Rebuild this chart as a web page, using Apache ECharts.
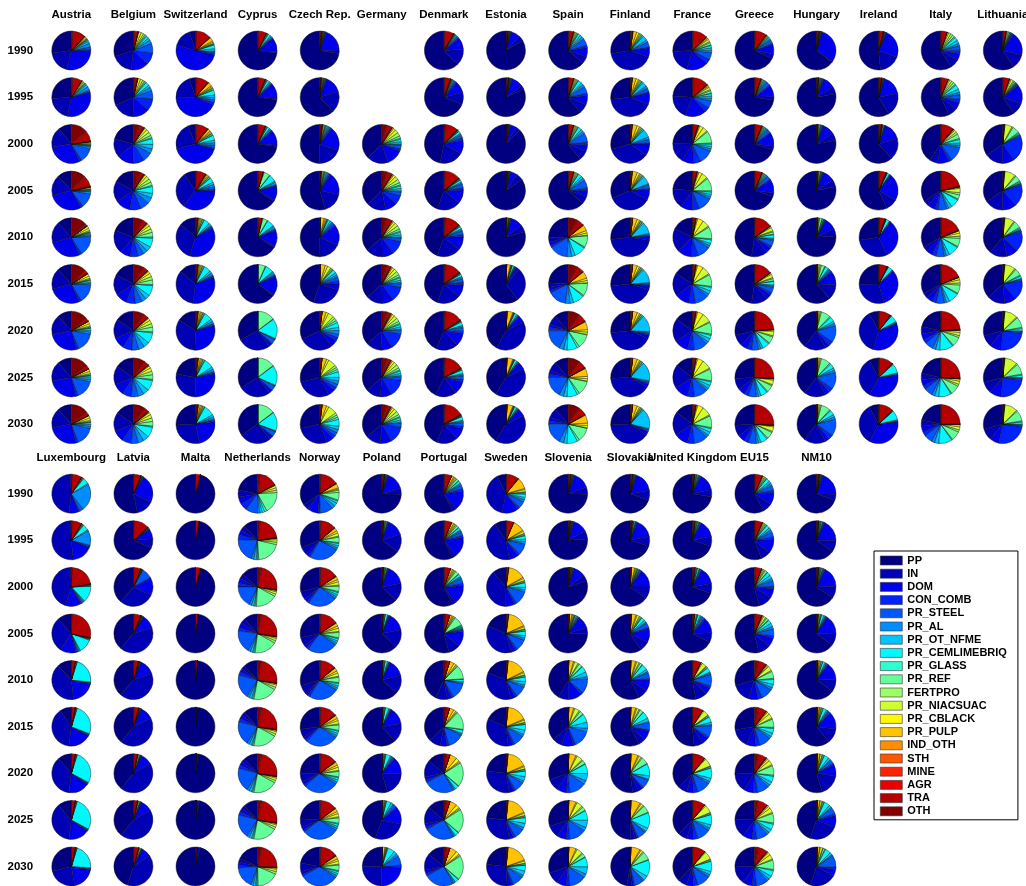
<!DOCTYPE html>
<html><head><meta charset="utf-8">
<script src="https://cdn.jsdelivr.net/npm/echarts@6/dist/echarts.min.js"></script>
<style>html,body{margin:0;padding:0;background:#fff}#c{width:1026px;height:886px}</style>
</head><body><div id="c"></div>
<script>
const categories = ['PP','IN','DOM','CON_COMB','PR_STEEL','PR_AL','PR_OT_NFME','PR_CEMLIMEBRIQ','PR_GLASS','PR_REF','FERTPRO','PR_NIACSUAC','PR_CBLACK','PR_PULP','IND_OTH','STH','MINE','AGR','TRA','OTH'];
const years = ['1990','1995','2000','2005','2010','2015','2020','2025','2030'];

const austria = [
[27,19,29,1,2, 3,2,1,0.5,0.5, 0.5,1,1,0.5,0, 0,0,0,11,1],
[26,21,32,1,1, 3,2,1,0.5,0.5, 1,1,1,0,0, 0,0,0,8,1],
[11,17,30,2,12, 2,0.5,0.5,0.5,0.5, 0.5,1,0.5,0.3,0, 0,0,0.3,9,14],
[12,18,30,2,12, 2,0.5,0.5,0.5,0.5, 0.5,1,0.5,0.3,0, 0,0,0.3,10,12],
[12,18,28,2,17, 1,1,1,0.5,0.5, 1,2,2,0.3,0, 0,0,0.3,2,13],
[12,18,28,2,16, 1,1,1.5,0.5,0.5, 1,2,2,0.3,0, 0,0,0.3,3,13],
[12,17,27,2,16, 2,1.5,1.5,0.5,0.5, 1,2,2,0.3,0, 0,0,0.3,3,14],
[12,17,27,2,16, 2,1.5,1.5,0.5,0.5, 1,2,2,0.3,0, 0,0,0.3,3,15],
[12,17,27,2,16, 2,1.5,1.5,0.5,0.5, 1,2,2,0.3,0, 0,0,0.3,3,15]];
const belgium = [
[30,18,15,10,8, 3,2,2,1,1, 1.5,2,2,0.5,0, 0,0,0.5,3,0.5],
[32,18,14,10,7, 3,2,3,1,1, 1.5,2,2,0.5,0, 0,0,0.5,2.5,0.5],
[22,16,14,10,8, 4,4,5,1,2, 3,3,2,0.5,0.5, 0,0,0.5,4,5],
[18,18,13,10,8, 5,4,6,1,3, 3,3,2,0.5,0.5, 0,0,0.5,3,6],
[20,20,9,7,5, 4,4,8,1,4, 3,3,2,0.5,0.5, 0,0,0.5,4,8],
[18,18,10,8,6, 4,4,9,1,4, 3,3,2,0.5,0.5, 0,0,0.5,4,9],
[16,16,10,8,6, 5,5,9,1,4, 3,3,2,0.5,0.5, 0,0,0.5,4,9],
[16,16,10,8,6, 5,5,9,1,4, 3,3,2,0.5,0.5, 0,0,0.5,4,10],
[16,16,10,8,6, 5,5,9,1,4, 3,3,2,0.5,0.5, 0,0,0.5,4,10]];
const switzerland = [
[5,15,50,1,1, 1,2,3,0.5,0.5, 0.5,1,1,3,0.5, 0,0,0.5,12,0.5],
[5,20,42,2,2, 2,2,4,0.5,1, 0.5,1,1,3,0.5, 0,0,0.5,10,0.5],
[6,22,40,1,2, 2,2,4,0.5,1, 0.5,1,1,2,0.5, 0,0,0.5,9,1],
[10,30,36,1,2, 2,2,4,0.5,1, 0.5,1,1,1,0, 0,0,0.5,8,0.5],
[14,32,38,1,1, 1,2,5,0.5,1, 0.5,1,1,1,0.5, 0,0,0.5,1,0.5],
[14,34,33,1,1, 2,2,6,0.5,1, 0.5,1,1,1,0.5, 0,0,0.5,1,0.5],
[16,34,30,1,1, 2,2,7,0.5,1, 0.5,1,1,1.5,0.5, 0,0,0.5,1,0.5],
[22,28,28,1,1, 2,2,8,0.5,1, 0.5,1,1,1.5,0.5, 0,0,0.5,1,0.5],
[26,28,24,1,1, 2,2,9,0.5,1, 0.5,1,1,1.5,0.5, 0,0,0.5,1,0.5]];
const cyprus = [
[74,1,12,0.5,0.5, 1,1,2,0.5,0.5, 0.5,0.5,0,0,0, 0,0,0,7,0.5],
[74,1,13,0.5,0.5, 1,1,2,0.5,0.5, 0.5,0.5,0,0,0, 0,0,0,6,0.5],
[74,1,13,0.5,0.5, 1,1,2,0.5,0.5, 0.5,0.5,0,0,0, 0,0,0,6,0.5],
[66,1,12,0.5,1, 2,1,6,0.5,5, 0.5,0.5,0,0,0, 0,0,0,4,0.5],
[68,1,14,0.5,1, 2,1,6,0.5,4, 0.5,0.5,0,0,0, 0,0,0,3,0.5],
[65,1,16,0.5,1, 2,1,7,0.5,6, 0.5,0,0,0,0, 0,0,0,0,0],
[34,28,3,0.5,4, 0.5,0.5,17,0.5,15, 0,0,0,0,0, 0,0,0,0,0],
[35,27,3,0.5,4, 0.5,0.5,17,0.5,15, 0,0,0,0,0, 0,0,0,0,0],
[36,27,3,0.5,4, 0.5,0.5,16,0.5,15, 0,0,0,0,0, 0,0,0,0,0]];
const czech = [
[73,2,20,0.5,0.5, 0.3,0.3,0.3,0.3,0.3, 0.3,0.3,0.3,0.3,0, 0,0,0.3,1,0.5],
[62,18,14,0.5,0.5, 0.5,0.5,0.5,0.3,0.3, 0.3,0.5,0.5,0.5,0, 0,0,0.3,0.5,0.3],
[50,20,20,1,1, 1,1,1,0.5,0.5, 0.5,1,0.5,0.5,0, 0,0,0.3,1.5,0.3],
[55,17,19,1,1, 1,1,1,0.5,0.5, 0.5,1,0.5,0.5,0, 0,0,0.3,0.5,0.3],
[50,18,17,1.5,1.5, 1,1.5,2,0.5,0.5, 0.5,1,1,3,0, 0,0,0,0.3,0.3],
[45,25,5,3,3, 2,2,3,0.5,1, 1,3,2,4,0, 0,0,0,0.3,0.3],
[33,29,6,3,3, 3,3,4,2,2, 2,5,2,3.5,0, 0,0,0,1.5,0.5],
[30,30,6,3,3, 3,3,5,2,2, 2,7,2,4,0, 0,0,0,1.5,0.5],
[30,29,6,3,3, 3,3,6,2,2, 2,8,2,4,0, 0,0,0,1.5,0.5]];
const germany = [
null,
null,
[38,18,14,2,3, 1,2,2,1,2, 3,3,2,1,0.5, 0,0,1,4,4],
[38,16,10,8,3, 1,2,2,1,2, 3,3,2,1,0.5, 0,0,1,4,4],
[38,14,10,12,3, 1,2,2,1,2, 3,3,2,1,0.5, 0,0,1,4,4],
[38,14,10,13,3, 1,2,2,1,2, 3,3,2,1,0.5, 0,0,1,3,4],
[38,13,10,14,3, 1,2,2,1,2, 3,3,2,1,0.5, 0,0,1,3,4],
[38,13,10,15,3, 1,2,2,1,2, 3,3,2,1,0.5, 0,0,1,3,4],
[38,13,10,15,3, 1,2,2,1,2, 3,3,2,1,0.5, 0,0,1,3,4]];
const denmark = [
[64,14,10,1,1, 1,1,0.5,0.3,0.3, 0.3,0.3,0.3,0,0, 0,0,0,8,0.5],
[70,10,10,1,1, 1,1,0.5,0.3,0.3, 0.3,0.3,0.3,0,0, 0,0,0,5,0.5],
[48,20,12,2,2, 1,1,2,0.3,0.5, 0.3,0.3,0.3,0,0, 0,0,0.5,11,1],
[46,20,12,2,3, 1,1,2,0.3,0.5, 0.3,0.3,0.3,0,0, 0,0,0.5,13,1],
[46,20,12,2,3, 1,1,2,0.3,0.5, 0.3,0.3,0.3,0,0, 0,0,0.5,13,1],
[46,20,11,2,3, 1,1,2,0.3,0.5, 0.3,0.3,0.3,0,0, 0,0,0.5,14,1],
[45,19,11,2,3, 1,1,3,0.3,0.5, 0.3,0.3,0.3,0,0, 0,0,0.5,15,1],
[44,18,11,2,3, 1,1,3,0.3,0.5, 0.3,0.3,0.3,0,0, 0,0,0.5,16,1],
[45,18,10,2,3, 1,1,3,0.3,0.5, 0.3,0.3,0.3,0,0, 0,0,0.5,16,1]];
const estonia = [
[84,4,8,0.5,0.5, 0.3,0.3,0.3,0.2,0.2, 0.2,0.2,0.2,0.2,0, 0,0,0,1,0.3],
[82,3,10,0.5,0.5, 0.5,0.3,0.3,0.2,0.2, 0.2,0.2,0.2,0.2,0, 0,0,0,1.5,0.3],
[88,4,5,0.5,0.3, 0.3,0.3,0.3,0.2,0.2, 0.2,0.2,0.2,0.3,0, 0,0,0,0.5,0.3],
[85,6,6,0.5,0.3, 0.3,0.3,0.3,0.2,0.2, 0.2,0.2,0.2,0.3,0, 0,0,0,0.5,0.3],
[80,6,10,0.5,0.3, 0.3,0.3,0.5,0.2,0.2, 0.2,0.2,0.3,1,0, 0,0,0,0.3,0.2],
[60,28,3,0.5,0.5, 0.5,0.5,1.5,0.3,0.3, 0.3,0.3,0.5,3,0, 0,0,0,0.3,0.2],
[43,41,6,0.5,0.5, 0.5,1,2,0.3,0.3, 0.3,0.3,0.5,5,0, 0,0,0,0.5,0.3],
[42,42,6,0.5,0.5, 0.5,1,2,0.3,0.3, 0.3,0.3,0.5,5,0, 0,0,0,0.5,0.3],
[42,42,6,0.5,0.5, 0.5,1,2,0.3,0.3, 0.3,0.3,0.5,5,0, 0,0,0,0.5,0.3]];
const spain = [
[65,6,8,2,6, 2,2,2,0.5,1, 1,1,0.5,0.5,0, 0,0,0,4,0.5],
[62,8,8,2,6, 2,2,3,0.5,1, 1,1,0.5,0.5,0, 0,0,0,4,0.5],
[62,8,6,2,8, 2,2,3,0.5,1, 1,1,0.5,0.5,0, 0,0,0,4,0.5],
[64,7,5,2,7, 2,2,3,0.5,1, 1,1,0.5,0.5,0, 0,0,0,4,0.5],
[26,4,3,2,16, 4,3,10,1,10, 0.5,2,2,5,0.5, 0,0,0.5,6,8],
[25,4,3,2,16, 4,3,10,1,11, 0.5,2,2,6,0.5, 0,0,0.5,6,8],
[12,8,3,3,18, 4,3,9,2,12, 0.5,2,2,7,0.5, 0,0,0.5,7,10],
[12,8,3,3,18, 4,3,9,2,12, 0.5,2,2,7,0.5, 0,0,0.5,7,10],
[12,8,3,3,18, 4,3,9,2,12, 0.5,2,2,7,0.5, 0,0,0.5,7,10]];
const finland = [
[28,42,8,1,4, 2,4,1,0.5,1, 1,1,2,3,0.5, 0,0,0,1.5,0.5],
[27,43,10,1,3, 2,4,1,0.5,1, 1,1,2,3,0.5, 0,0,0,1,0.5],
[30,36,10,1,3, 2,7,1,0.5,1, 1,1,2,4,0.5, 0,0,0,1,0.5],
[32,36,9,1,3, 1,7,1,0.5,1, 1,1,2,4,0.5, 0,0,0,1,0.5],
[27,46,3,1,1, 1,10,1,0.5,1, 0.5,1,2,4,0, 0,0,0,1.5,0.5],
[27,44,3,1,1, 1,12,1,0.5,1, 0.5,1,2,4,0, 0,0,0,1.5,0.5],
[27,42,3,1,1, 1,14,1,0.5,1, 0.5,1,2,4,0, 0,0,0,1.5,0.5],
[26,41,3,1,1, 1,16,1,0.5,1, 0.5,1,2,4,0, 0,0,0,1.5,0.5],
[26,40,3,1,1, 1,17,1,0.5,1, 0.5,1,2,4,0, 0,0,0,1.5,0.5]];
const france = [
[26,20,18,4,6, 2,2,2,0.5,2, 1,2,1,1,0.5, 0,0,0.5,12,0.5],
[24,20,18,4,6, 2,2,2,0.5,2, 1,2,1,1,0.5, 0,0,0.5,13,0.5],
[25,17,10,6,12, 2,2,2,1,10, 1,4,3,1,0.5, 0,0,0.5,4,0.5],
[24,17,10,6,12, 2,2,2,1,11, 1,5,3,1,0.5, 0,0,0.5,3,0.5],
[18,20,12,6,11, 2,2,3,1,10, 1,6,5,1,0.5, 0,0,0.5,2,0.5],
[16,20,12,6,12, 2,3,3,1,10, 1,7,5,1,0.5, 0,0,0.5,2,0.5],
[15,20,12,6,12, 2,3,3,1,10, 1,8,5,1,0.5, 0,0,0.5,2,0.5],
[15,20,12,6,12, 2,3,3,1,10, 1,8,5,1,0.5, 0,0,0.5,2,0.5],
[15,20,12,6,12, 2,3,3,1,10, 1,8,5,1,0.5, 0,0,0.5,2,0.5]];
const greece = [
[70,4,8,1,3, 1,1,1,0.5,1, 0.5,0.5,0.3,0.2,0, 0,0,0,10,0.5],
[75,3,10,1,3, 1,1,1,0.5,1, 0.5,0.5,0.3,0.2,0, 0,0,0,5,0.5],
[74,3,12,1,3, 1,1,1,0.5,1, 0.5,0.5,0.3,0.2,0, 0,0,0,6,0.5],
[74,3,12,1,3, 1,1,1,0.5,1, 0.5,0.5,0.3,0.2,0, 0,0,0,6,0.5],
[50,14,5,2,5, 1,1,3,0.5,2, 1,3,1,0.5,0, 0,0,0.5,15,0.5],
[50,14,5,2,5, 1,1,3,0.5,2, 1,3,1,0.5,0, 0,0,0.5,15,0.5],
[30,10,6,4,6, 2,2,6,1,6, 1,4,1,0.5,0, 0,0,0.5,24,0.5],
[27,10,6,4,7, 2,2,6,1,6, 1,4,1,0.5,0, 0,0,0.5,26,0.5],
[27,10,6,4,7, 2,2,6,1,6, 1,4,1,0.5,0, 0,0,0.5,26,0.5]];
const hungary = [
[65,1,30,0.3,0.3, 0.3,0.3,0.3,0.2,0.3, 0.3,0.2,0.2,0.2,0, 0,0,0,1.5,0.5],
[78,6,10,0.5,0.5, 0.5,0.5,0.5,0.3,0.5, 0.5,0.3,0.3,0.2,0, 0,0,0,1,0.5],
[78,6,10,0.5,0.5, 0.5,0.5,0.5,0.3,1, 0.5,0.3,0.3,0.2,0, 0,0,0,0.5,0.3],
[78,6,10,0.5,0.5, 0.5,0.5,0.5,0.3,1, 0.5,0.3,0.3,0.2,0, 0,0,0,0.5,0.3],
[76,6,10,0.5,0.5, 0.5,0.5,1,0.3,2, 0.5,0.5,0.5,0.2,0, 0,0,0,0.5,0.3],
[62,13,11,1,1, 1,1,3,0.5,3, 1,1,1,0.2,0, 0,0,0,0.5,0.3],
[40,18,4,4,14, 2,2,4,1,8, 1,1,1,0.2,0, 0,0,0,0.5,0.3],
[40,18,4,4,14, 2,2,4,1,8, 1,1,1,0.2,0, 0,0,0,0.5,0.3],
[40,18,4,4,14, 2,2,4,1,8, 1,1,1,0.2,0, 0,0,0,0.5,0.3]];
const ireland = [
[52,18,24,0.5,0.3, 0.3,0.3,0.5,0.2,0.2, 0.2,0.2,0.2,0.2,0, 0,0,0,3.5,0.3],
[60,20,17,0.3,0.3, 0.3,0.3,0.5,0.2,0.2, 0.2,0.2,0.2,0.2,0, 0,0,0,2,0.3],
[62,18,15,0.3,0.3, 0.3,0.3,1,0.2,0.2, 0.2,0.2,0.2,0.2,0, 0,0,0,2,0.3],
[58,10,23,0.3,0.3, 0.3,0.5,2,0.2,0.2, 0.2,0.2,0.2,0.2,0, 0,0,0,6,0.3],
[28,30,33,0.3,0.3, 0.3,0.5,3,0.2,0.2, 0.2,0.2,0.2,0.2,0, 0,0,0,5,0.3],
[26,30,33,0.3,0.3, 0.3,0.5,4,0.2,0.2, 0.2,0.2,0.2,0.2,0, 0,0,0,7,0.3],
[8,38,36,0.3,0.3, 0.3,1,6,0.2,0.2, 0.2,0.2,0.2,0.2,0, 0,0,0,10,0.3],
[8,35,35,0.3,0.3, 0.3,1,8,0.2,0.2, 0.2,0.2,0.2,0.2,0, 0,0,0,12,0.3],
[8,35,35,0.3,0.3, 0.3,1,8,0.2,0.2, 0.2,0.2,0.2,0.2,0, 0,0,0,12,0.3]];
const italy = [
[62,8,6,3,4, 2,3,3,1,2, 2,2,1,0.5,0, 0,0,0,5,0.5],
[60,8,6,3,4, 2,3,4,1,2, 2,2,1,0.5,0, 0,0,0,6,0.5],
[43,7,10,3,13, 2,2,3,1,4, 2,2,1,0.5,0, 0,0,0.5,11,0.5],
[38,5,7,3,8, 2,3,8,1,4, 2,4,1,0.5,0, 0,0,0.5,23,0.5],
[38,5,6,4,8, 2,3,10,1,8, 2,3,2,0.5,0, 0,0,0.5,21,0.5],
[38,5,6,4,8, 2,3,10,1,8, 2,3,2,0.5,0, 0,0,0.5,21,0.5],
[25,7,6,4,8, 3,4,13,1,9, 2,3,2,0.5,0, 0,0,0.5,27,0.5],
[25,6,6,4,8, 3,4,12,1,9, 2,3,2,0.5,0, 0,0,0.5,29,0.5],
[25,6,6,4,8, 3,4,13,1,9, 2,3,2,0.5,0, 0,0,0.5,28,0.5]];
const lithuania = [
[60,12,20,1,0.5, 0.5,0.5,0.5,0.5,1, 1,0.5,0.3,0.3,0, 0,0,0,2,0.5],
[60,10,16,1,0.5, 0.5,0.5,0.5,0.5,1, 1,2,1,0.5,0, 0,0,0,5,0.5],
[35,15,10,22,1, 0.5,0.5,1,1,6, 1,6,0.5,0.3,0, 0,0,0,0.5,0.5],
[35,15,12,18,1, 0.5,0.5,1,1,5, 1,9,0.5,0.3,0, 0,0,0,0.5,0.5],
[40,15,10,17,1, 0.5,0.5,1,1,6, 1,8,0.5,0.3,0, 0,0,0,0.5,0.5],
[38,15,10,17,1, 0.5,0.5,2,1,6, 1,9,0.5,0.3,0, 0,0,0,0.5,0.5],
[30,10,10,25,1, 0.5,0.5,2,1,9, 1,11,0.5,0.3,0, 0,0,0,0.5,0.5],
[30,10,10,25,1, 0.5,0.5,2,1,9, 1,11,0.5,0.3,0, 0,0,0,0.5,0.5],
[30,10,8,27,1, 0.5,0.5,2,1,9, 1,11,0.5,0.3,0, 0,0,0,0.5,0.5]];
const luxembourg = [
[1,46,8,1,3, 22,1,5,0.5,0.5, 0.3,0.3,0.3,0.3,0, 0,0,0,8,0.5],
[1,50,17,1,1, 12,1,5,0.5,0.5, 0.3,0.3,0.3,0.3,0, 0,0,0,8,0.5],
[1,46,14,1,1, 1,1,14,0.5,0.5, 0.3,0.3,0.3,0.3,0, 0,0,0,23,0.5],
[12,30,14,1,1, 1,1,12,0.5,0.5, 0.3,0.3,0.3,0.3,0, 0,0,0,29,0.5],
[12,41,20,0.5,0.5, 0.5,0.5,22,0.3,0.3, 0.3,0.3,0.3,0.3,0, 0,0,0,3,0.3],
[10,40,20,0.5,0.5, 0.5,0.5,27,0.3,0.3, 0.3,0.3,0.3,0.3,0, 0,0,0,3,0.3],
[12,38,18,0.5,0.5, 0.5,0.5,29,0.3,0.3, 0.3,0.3,0.3,0.3,0, 0,0,0,3,0.3],
[12,38,18,0.5,0.5, 0.5,0.5,29,0.3,0.3, 0.3,0.3,0.3,0.3,0, 0,0,0,3,0.3],
[30,25,20,0.5,0.5, 0.5,0.5,22,0.3,0.3, 0.3,0.3,0.3,0.3,0, 0,0,0,3,0.3]];
const latvia = [
[55,15,24,0.5,0.3, 0.3,0.3,0.3,0.2,0.2, 0.2,0.2,0.2,0.2,0, 0,0,0,6,0.3],
[70,8,8,0.3,0.3, 0.3,0.3,0.3,0.2,0.2, 0.2,0.2,0.2,0.2,0, 0,0,0,13,0.5],
[40,30,15,0.5,9, 0.3,0.3,0.3,0.2,0.2, 0.2,0.2,0.2,0.2,0, 0,0,0,6,0.3],
[40,42,12,0.3,0.3, 0.3,0.3,0.3,0.2,0.2, 0.2,0.2,0.2,0.2,0, 0,0,0,6,0.3],
[40,43,13,0.3,0.3, 0.3,0.3,0.3,0.2,0.2, 0.2,0.2,0.2,0.2,0, 0,0,0,4,0.3],
[40,44,11,0.3,0.3, 0.3,0.3,0.3,0.2,0.2, 0.2,0.2,0.2,0.2,0, 0,0,0,4,0.3],
[40,45,10,0.3,0.3, 0.3,0.3,0.3,0.2,1, 0.5,0.2,0.2,0.2,0, 0,0,0,3,0.3],
[40,45,10,0.3,0.3, 0.3,0.3,0.3,0.2,1, 0.5,0.2,0.2,0.2,0, 0,0,0,3,0.3],
[46,40,8,0.3,0.3, 0.3,0.3,0.3,0.2,1, 0.5,0.2,0.2,0.2,0, 0,0,0,4,0.3]];
const malta = [
[96,0,0,0,0, 0,0,0,0,0, 0,0,0,0,0, 0,0,0,4,0],
[97,0,0,0,0, 0,0,0,0,0, 0,0,0,0,0, 0,0,0,3,0],
[96,0,0,0,0, 0,0,0,0,0, 0,0,0,0,0, 0,0,0,4,0],
[98,0,0,0,0, 0,0,0,0,0, 0,0,0,0,0, 0,0,0,2,0],
[98.5,0,0,0,0, 0,0,0,0,0, 0,0,0,0,0, 0,0,0,1.5,0],
[99.5,0,0,0,0, 0,0,0,0,0, 0,0,0,0,0, 0,0,0,0.5,0],
[97,0,2,0,0, 0,0,0,0,0, 0,0,0,0,0, 0,0,0,0.5,0],
[96.5,0,3,0,0, 0,0,0,0,0, 0,0,0,0,0, 0,0,0,0.5,0],
[96,0,3,0,0, 0,0,0,0,0, 0,0,0,0,0, 0,0,0,1,0]];
const netherlands = [
[22,6,6,6,10, 2,2,2,2,18, 2,2,2,0.5,0, 0,0,0.5,15,2],
[12,4,4,4,20, 2,2,1,1,20, 2,2,1,0.5,0, 0,0,0.5,20,2],
[14,4,4,3,18, 2,2,1,1,18, 2,2,1,0.5,0, 0,0,0.5,24,3],
[12,4,4,3,19, 2,2,1,1,19, 2,2,1,0.5,0, 0,0,0.5,24,3],
[12,3,3,3,20, 2,2,1,1,20, 2,2,1,0.5,0, 0,0,0.5,24,3],
[12,3,3,3,20, 2,2,1,1,20, 2,2,1,0.5,0, 0,0,0.5,24,3],
[12,3,3,3,20, 2,2,1,1,20, 2,2,1,0.5,0, 0,0,0.5,24,3],
[12,3,3,3,20, 2,2,1,1,20, 2,2,1,0.5,0, 0,0,0.5,24,3],
[18,3,3,2,18, 2,2,1,1,18, 2,2,1,0.5,0, 0,0,0.5,22,3]];
const norway = [
[38,5,10,2,12, 3,3,2,1,7, 2,1,1,4,0.5, 0,0,0.5,16,1],
[35,7,3,2,28, 2,2,2,1,5, 1,3,2,3,0.5, 0,0,0.5,14,1],
[32,8,3,2,27, 2,2,2,1,5, 1,3,2,3,0.5, 0,0,0.5,16,1],
[32,8,3,2,28, 2,2,2,1,5, 1,3,2,3,0.5, 0,0,0.5,16,1],
[33,8,3,2,28, 2,2,2,1,5, 1,3,2,3,0.5, 0,0,0.5,14,1],
[30,8,3,2,30, 2,2,2,1,5, 1,3,2,3,0.5, 0,0,0.5,15,1],
[28,8,3,2,32, 2,2,2,1,5, 1,3,2,3,0.5, 0,0,0.5,15,1],
[27,8,3,2,34, 2,2,2,1,5, 1,3,2,3,0.5, 0,0,0.5,15,1],
[25,8,3,2,36, 2,2,2,1,5, 1,3,2,3,0.5, 0,0,0.5,16,1]];
const poland = [
[75,5,15,0.5,0.5, 0.3,0.3,0.5,0.2,0.3, 0.3,0.3,0.2,0.2,0, 0,0,0,1.5,0.5],
[65,15,14,0.5,0.5, 0.3,0.5,1,0.2,0.5, 0.5,0.5,0.2,0.2,0, 0,0,0,0.8,0.3],
[63,15,16,0.5,0.5, 0.3,0.5,1,0.2,0.5, 0.5,0.5,0.2,0.2,0, 0,0,0,0.8,0.3],
[63,15,15,0.5,0.5, 0.5,0.5,2,0.2,0.5, 0.5,0.5,0.2,0.2,0, 0,0,0,0.5,0.3],
[64,15,14,0.5,0.5, 0.5,1,2,0.2,0.5, 0.5,0.5,0.2,0.2,0, 0,0,0,0.3,0.3],
[62,16,14,0.5,0.5, 0.5,1,3,0.2,0.5, 0.5,0.5,0.3,0.3,0, 0,0,0,0.3,0.3],
[55,20,14,1,1, 1,1,4,0.3,0.5, 0.5,0.5,0.5,0.5,0, 0,0,0,0.3,0.3],
[45,27,15,1,2, 1,2,4,0.3,0.5, 0.5,0.5,0.5,1,0, 0,0,0,0.3,0.3],
[25,25,25,2,8, 2,3,6,0.5,0.5, 0.5,0.5,0.5,2,0, 0,0,0,0.3,0.3]];
const portugal = [
[58,3,17,2,3, 1,1,2,0.5,2, 1,1,1,2,0, 0,0,0,6,0.5],
[58,3,17,2,3, 1,1,2,0.5,2, 1,1,1,2,0, 0,0,0,6,0.5],
[58,3,16,2,4, 1,1,2,0.5,3, 1,1,1,2,0, 0,0,0,5,0.5],
[55,10,13,1,1, 1,1,1,0.5,8, 1,1,1,2,0, 0,0,0,4,1],
[45,10,4,2,14, 1,1,2,0.5,12, 1,1,2,4,0, 0,0,0,3,2],
[40,10,6,2,14, 1,1,3,0.5,16, 1,1,2,4,0, 0,0,0,3,2],
[14,14,3,2,25, 1,1,3,0.5,20, 1,1,3,6,0, 0,0,0,3,2],
[14,14,3,2,25, 1,1,3,0.5,20, 1,1,3,6,0, 0,0,0,3,2],
[14,14,3,2,25, 1,1,3,0.5,20, 1,1,3,6,0, 0,0,0,3,2]];
const sweden = [
[8,42,15,2,6, 2,2,3,0.5,1, 0.5,2,1,10,0.5, 0,0,0,11,0.5],
[10,45,8,2,10, 2,2,3,0.5,1, 0.5,2,1,10,0.5, 0,0,0,6,0.5],
[12,40,8,2,12, 2,2,4,0.5,1, 0.5,2,1,15,0.5, 0,0,0,1.5,0.5],
[20,38,4,2,10, 2,2,4,0.5,1, 0.5,2,1,17,0.5, 0,0,0,1.5,0.5],
[20,38,4,2,10, 2,3,4,0.5,1, 0.5,2,1,17,0.5, 0,0,0,1,0.5],
[20,36,4,2,10, 2,4,5,0.5,1, 0.5,2,1,18,0.5, 0,0,0,1,0.5],
[25,32,4,2,9, 2,4,5,0.5,1, 0.5,2,1,18,0.5, 0,0,0,1,0.5],
[25,32,4,2,9, 2,4,5,0.5,1, 0.5,2,1,18,0.5, 0,0,0,1,0.5],
[25,30,4,2,10, 2,4,5,0.5,1, 0.5,2,1,19,0.5, 0,0,0,1,0.5]];
const slovenia = [
[75,6,14,0.5,0.5, 0.3,0.3,0.3,0.2,0.3, 0.3,0.3,0.2,0.3,0, 0,0,0,1.5,0.5],
[76,7,12,0.5,0.5, 0.3,0.3,0.3,0.2,0.3, 0.3,0.3,0.2,0.3,0, 0,0,0,1,0.5],
[80,5,10,0.5,0.5, 0.3,0.3,0.5,0.2,0.3, 0.3,0.3,0.2,0.5,0, 0,0,0,0.8,0.3],
[75,5,10,0.5,1, 0.5,1,1,0.3,0.5, 0.5,1,0.5,2,0, 0,0,0,0.8,0.3],
[42,8,12,2,12, 2,4,5,0.5,3, 1,3,1,4,0, 0,0,0,0.3,0.2],
[36,8,10,2,14, 3,5,7,0.5,3, 1,4,1,4,0, 0,0,0,0.3,0.2],
[30,10,8,3,14, 3,6,8,0.5,3, 1,5,1,6,0, 0,0,0,0.3,0.2],
[30,10,8,3,14, 3,6,8,0.5,3, 1,5,1,6,0, 0,0,0,0.3,0.2],
[30,10,8,3,14, 3,6,8,0.5,3, 1,5,1,6,0, 0,0,0,0.3,0.2]];
const slovakia = [
[70,8,17,0.5,0.5, 0.3,0.3,0.5,0.2,0.3, 0.3,0.3,0.2,0.3,0, 0,0,0,1.5,0.3],
[70,8,16,0.5,0.5, 0.5,0.5,1,0.2,0.3, 0.3,0.3,0.2,0.3,0, 0,0,0,1,0.3],
[65,10,15,0.5,1, 0.5,0.5,1,0.2,0.5, 0.5,1,0.5,3,0, 0,0,0,0.5,0.3],
[60,8,12,1,4, 1,2,3,0.3,1, 1,2,1,4,0, 0,0,0,0.5,0.3],
[58,8,10,1,5, 1,2,5,0.3,2, 1,2,1,4,0, 0,0,0,0.3,0.2],
[58,6,8,1,6, 1,3,6,0.3,3, 1,2,1,4,0, 0,0,0,0.3,0.2],
[52,5,4,1,7, 1,3,10,0.5,6, 1,2,1,6,0, 0,0,0,0.3,0.2],
[50,4,2,1,7, 1,3,13,0.5,6, 1,2,1,8,0, 0,0,0,0.3,0.2],
[48,4,2,1,8, 1,4,14,0.5,7, 1,2,1,8,0, 0,0,0,0.3,0.2]];
const unitedKingdom = [
[72,6,14,0.5,1, 0.5,0.5,1,0.2,0.5, 0.5,0.5,0.3,0.3,0, 0,0,0,1,0.5],
[70,8,14,0.5,1, 0.5,0.5,1,0.2,0.5, 0.5,0.5,0.3,0.3,0, 0,0,0,1.5,0.5],
[70,8,14,0.5,1, 0.5,0.5,1.5,0.2,0.5, 0.5,0.5,0.3,0.3,0, 0,0,0,1.5,0.5],
[68,8,13,1,2, 1,1,2,0.3,0.5, 0.5,1,0.5,0.3,0, 0,0,0,1,0.5],
[55,10,6,2,10, 1,1,4,0.5,1, 0.5,4,1,0.3,0, 0,0,0,7,0.5],
[55,8,6,2,10, 1,2,5,0.5,1, 0.5,5,1,0.3,0, 0,0,0,9,0.5],
[40,8,6,4,12, 2,3,9,0.5,1, 0.5,7,1,0.3,0, 0,0,0,11,0.5],
[40,8,6,4,12, 2,3,9,0.5,1, 0.5,7,1,0.3,0, 0,0,0,11,0.5],
[40,8,6,4,12, 2,3,9,0.5,1, 0.5,7,1,0.3,0, 0,0,0,11,0.5]];
const eu15 = [
[58,8,10,2,4, 2,2,3,0.5,1, 1,1,0.5,0.5,0, 0,0,0,6,0.5],
[56,8,12,2,4, 2,2,3,0.5,1, 1,1,0.5,0.5,0, 0,0,0,6,0.5],
[55,12,8,2,5, 2,3,3,0.5,2, 1,1,1,0.5,0, 0,0,0,5,1],
[55,10,8,2,6, 2,3,3,0.5,2, 1,2,1,0.5,0, 0,0,0.5,5,1],
[30,16,8,4,10, 2,3,4,1,6, 1,4,1,1,0.5, 0,0,0.5,7,3],
[28,16,8,4,10, 2,3,4,1,7, 1,4,2,1,0.5, 0,0,0.5,7,3],
[26,16,8,4,10, 2,3,5,1,8, 1,4,2,1,0.5, 0,0,0.5,7,3],
[25,16,8,4,10, 2,3,5,1,8, 1,4,2,1,0.5, 0,0,0.5,8,3],
[25,16,8,4,10, 2,3,5,1,8, 1,4,2,1,0.5, 0,0,0.5,8,3]];
const nm10 = [
[70,5,20,0.5,0.5, 0.3,0.3,0.5,0.2,0.3, 0.3,0.3,0.2,0.2,0, 0,0,0,1.5,0.5],
[65,10,18,0.5,0.5, 0.5,0.5,1,0.3,0.5, 0.5,0.5,0.3,0.3,0, 0,0,0,1,0.5],
[65,10,17,0.5,1, 0.5,0.5,1,0.3,0.5, 0.5,0.5,0.3,0.3,0, 0,0,0,1,0.5],
[64,10,16,0.5,1, 0.5,1,2,0.3,0.5, 0.5,1,0.3,0.5,0, 0,0,0,0.7,0.3],
[64,10,14,0.5,1, 0.5,1,2,0.3,1, 0.5,1,0.5,1,0, 0,0,0,0.5,0.3],
[60,12,14,1,1, 1,1,3,0.3,1, 0.5,1,0.5,1.5,0, 0,0,0,0.3,0.3],
[55,18,10,1,3, 1,2,4,0.5,1, 0.5,1.5,0.5,2,0, 0,0,0,0.3,0.3],
[45,24,10,2,5, 1,2,5,0.5,1, 0.5,1.5,0.5,2,0, 0,0,0,0.3,0.3],
[45,22,6,2,10, 1,2,5,0.5,1.5, 0.5,2,0.5,2,0, 0,0,0,0.3,0.3]];

const topCountries = ['Austria','Belgium','Switzerland','Cyprus','Czech Rep.','Germany','Denmark','Estonia','Spain','Finland','France','Greece','Hungary','Ireland','Italy','Lithuania'];
const topData = [austria,belgium,switzerland,cyprus,czech,germany,denmark,estonia,spain,finland,france,greece,hungary,ireland,italy,lithuania];
const bottomCountries = ['Luxembourg','Latvia','Malta','Netherlands','Norway','Poland','Portugal','Sweden','Slovenia','Slovakia','United Kingdom','EU15','NM10'];
const bottomData = [luxembourg,latvia,malta,netherlands,norway,poland,portugal,sweden,slovenia,slovakia,unitedKingdom,eu15,nm10];

function jet(t){
  const c = v => Math.max(0, Math.min(1, v));
  const r = c(1.5 - Math.abs(4*t - 3)), g = c(1.5 - Math.abs(4*t - 2)), b = c(1.5 - Math.abs(4*t - 1));
  return 'rgb(' + Math.round(r*255) + ',' + Math.round(g*255) + ',' + Math.round(b*255) + ')';
}
const colors = categories.map((_, i) => jet(i / (categories.length - 1)));

const FONT = '"Liberation Sans", Arial, Helvetica, sans-serif';
const series = [];
const graphic = [];
const bad = [];
const X0 = 71.3, DX = 62.1, R = 19.5;

function addBlock(names, data, y0, dy, titleY) {
  names.forEach((name, ci) => {
    const cx = X0 + DX * ci;
    graphic.push({type:'text', x: cx, y: titleY, silent: true,
      style:{text: name, font: 'bold 11.5px ' + FONT, fill:'#000', textAlign:'center', textVerticalAlign:'middle', align:'center', verticalAlign:'middle'}});
    data[ci].forEach((vals, ri) => {
      if (!vals) return;
      if (vals.length !== categories.length) bad.push(name + ' ' + years[ri]);
      series.push({
        type:'pie', center:[cx, y0 + dy * ri], radius: R,
        startAngle: 90, clockwise: false, silent: true, animation: false,
        avoidLabelOverlap: false, legendHoverLink: false,
        label:{show:false}, labelLine:{show:false},
        emphasis:{disabled:true},
        itemStyle:{borderColor:'#111', borderWidth:0.45},
        data: vals.map((v, i) => ({name: categories[i], value: v, itemStyle:{color: colors[i]}}))
      });
    });
  });
  years.forEach((y, ri) => {
    graphic.push({type:'text', x: 20.3, y: y0 + dy * ri, silent: true,
      style:{text: y, font: 'bold 11.5px ' + FONT, fill:'#000', textAlign:'center', textVerticalAlign:'middle', align:'center', verticalAlign:'middle'}});
  });
}
addBlock(topCountries, topData, 50.5, 46.7, 15);
addBlock(bottomCountries, bottomData, 493.7, 46.6, 457.5);
if (bad.length) graphic.push({type:'text', x:600, y:870, style:{text:'BAD: '+bad.join(', '), fill:'red', font:'12px sans-serif'}});

const chart = echarts.init(document.getElementById('c'), null, {renderer:'canvas'});
chart.setOption({
  animation: false,
  color: colors,
  legend: {
    orient:'vertical', left: 874, top: 551, data: categories,
    icon:'rect', itemWidth: 22, itemHeight: 9, itemGap: 2.2,
    padding:[4, 11, 3, 6], borderColor:'#000', borderWidth: 1,
    selectedMode: false,
    itemStyle:{borderColor:'#333', borderWidth:0.6},
    textStyle:{fontFamily: FONT, fontWeight:'bold', fontSize: 11, color:'#000', lineHeight: 11}
  },
  graphic: graphic,
  series: series
});
</script>
</body></html>
